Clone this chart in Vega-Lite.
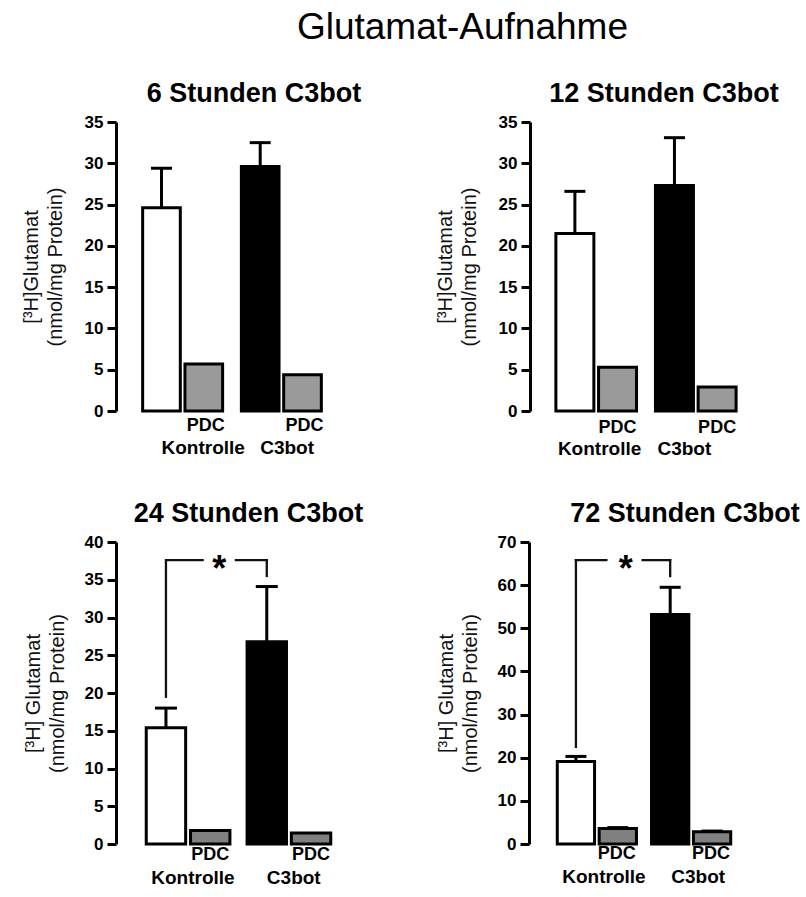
{
  "$schema": "https://vega.github.io/schema/vega-lite/v6.json",
  "padding": {"left": 21, "top": 9, "right": 0, "bottom": 0},
  "background": "white",
  "title": {"text": "Glutamat-Aufnahme", "font": "Liberation Sans", "fontSize": 37, "fontWeight": "normal", "color": "black", "anchor": "middle", "dx": 52, "offset": 33},
  "config": {
    "view": {"stroke": null},
    "font": "Liberation Sans",
    "axis": {"domainColor": "black", "domainWidth": 3, "tickColor": "black", "tickWidth": 3, "tickSize": 9, "labelFont": "Liberation Sans", "labelFontWeight": "bold", "labelFontSize": 17, "labelColor": "black", "labelPadding": 4, "titleFont": "Liberation Sans", "titleFontWeight": "normal", "titleFontSize": 20, "titleColor": "#111", "titlePadding": 17, "titleLineHeight": 24, "grid": false},
    "title": {"font": "Liberation Sans", "fontSize": 27, "fontWeight": "bold", "color": "black", "anchor": "middle", "offset": 5},
    "text": {"font": "Liberation Sans", "fontWeight": "bold", "fontSize": 18, "color": "black"}
  },
  "resolve": {"scale": {"x": "independent", "y": "independent", "xOffset": "independent", "fill": "independent"}},
  "spacing": 41,
  "vconcat": [
    {
      "spacing": 73,
      "resolve": {"scale": {"x": "independent", "y": "independent", "xOffset": "independent", "fill": "independent"}},
      "hconcat": [
        {
          "width": 232, "height": 289,
          "title": {"text": "6 Stunden C3bot", "dx": 22},
          "data": {"values": [
            {"gruppe": "Kontrolle", "bedingung": "ohne", "typ": "Kontrolle", "wert": 24.6, "oben": 29.4, "label": ""},
            {"gruppe": "Kontrolle", "bedingung": "PDC", "typ": "PDC", "wert": 5.7, "oben": null, "label": "PDC"},
            {"gruppe": "C3bot", "bedingung": "ohne", "typ": "C3bot", "wert": 29.6, "oben": 32.5, "label": ""},
            {"gruppe": "C3bot", "bedingung": "PDC", "typ": "PDC", "wert": 4.4, "oben": null, "label": "PDC"}
          ]},
          "encoding": {
            "x": {"field": "gruppe", "type": "nominal", "sort": ["Kontrolle", "C3bot"], "scale": {"paddingInner": 0.19, "paddingOuter": 0.27}, "axis": null},
            "xOffset": {"field": "bedingung", "type": "nominal", "sort": ["ohne", "PDC"], "scale": {"paddingInner": 0.11, "paddingOuter": 0}},
            "y": {"field": "wert", "type": "quantitative", "scale": {"domain": [0, 35], "nice": false}, "axis": {"values": [0, 5, 10, 15, 20, 25, 30, 35], "titlePadding": 19, "title": ["[³H]Glutamat", "(nmol/mg Protein)"]}}
          },
          "layer": [
            {"mark": {"type": "bar", "stroke": "black", "strokeWidth": 3},
             "encoding": {"fill": {"field": "typ", "type": "nominal", "scale": {"domain": ["Kontrolle", "PDC", "C3bot"], "range": ["white", "#9a9a9a", "black"]}, "legend": null}}},
            {"transform": [{"filter": "isValid(datum.oben)"}], "mark": {"type": "rule", "strokeWidth": 3, "color": "black"},
             "encoding": {"y2": {"field": "oben"}}},
            {"transform": [{"filter": "isValid(datum.oben)"}], "mark": {"type": "tick", "thickness": 3, "size": 21, "color": "black", "opacity": 1},
             "encoding": {"y": {"field": "oben", "type": "quantitative", "title": ["[³H]Glutamat", "(nmol/mg Protein)"]}}},
            {"transform": [{"filter": "datum.label == 'PDC'"}], "mark": {"type": "text", "baseline": "top", "dy": 6, "dx": 2},
             "encoding": {"y": {"datum": 0}, "text": {"field": "label"}}},
            {"transform": [{"filter": "datum.bedingung == 'ohne'"}], "mark": {"type": "text", "baseline": "top", "align": "left", "dy": 28, "dx": 0, "fontSize": 19},
             "encoding": {"y": {"datum": 0}, "text": {"field": "gruppe"}}}
          ]
        },
        {
          "width": 232, "height": 289,
          "title": {"text": "12 Stunden C3bot", "dx": 18},
          "data": {"values": [
            {"gruppe": "Kontrolle", "bedingung": "ohne", "typ": "Kontrolle", "wert": 21.5, "oben": 26.6, "label": ""},
            {"gruppe": "Kontrolle", "bedingung": "PDC", "typ": "PDC", "wert": 5.3, "oben": null, "label": "PDC"},
            {"gruppe": "C3bot", "bedingung": "ohne", "typ": "C3bot", "wert": 27.3, "oben": 33.1, "label": ""},
            {"gruppe": "C3bot", "bedingung": "PDC", "typ": "PDC", "wert": 2.9, "oben": null, "label": "PDC"}
          ]},
          "encoding": {
            "x": {"field": "gruppe", "type": "nominal", "sort": ["Kontrolle", "C3bot"], "scale": {"paddingInner": 0.19, "paddingOuter": 0.26}, "axis": null},
            "xOffset": {"field": "bedingung", "type": "nominal", "sort": ["ohne", "PDC"], "scale": {"paddingInner": 0.11, "paddingOuter": 0}},
            "y": {"field": "wert", "type": "quantitative", "scale": {"domain": [0, 35], "nice": false}, "axis": {"values": [0, 5, 10, 15, 20, 25, 30, 35], "titlePadding": 19, "title": ["[³H]Glutamat", "(nmol/mg Protein)"]}}
          },
          "layer": [
            {"mark": {"type": "bar", "stroke": "black", "strokeWidth": 3},
             "encoding": {"fill": {"field": "typ", "type": "nominal", "scale": {"domain": ["Kontrolle", "PDC", "C3bot"], "range": ["white", "#9a9a9a", "black"]}, "legend": null}}},
            {"transform": [{"filter": "isValid(datum.oben)"}], "mark": {"type": "rule", "strokeWidth": 3, "color": "black"},
             "encoding": {"y2": {"field": "oben"}}},
            {"transform": [{"filter": "isValid(datum.oben)"}], "mark": {"type": "tick", "thickness": 3, "size": 21, "color": "black", "opacity": 1},
             "encoding": {"y": {"field": "oben", "type": "quantitative", "title": ["[³H]Glutamat", "(nmol/mg Protein)"]}}},
            {"transform": [{"filter": "datum.label == 'PDC'"}], "mark": {"type": "text", "baseline": "top", "dy": 8, "dx": 0},
             "encoding": {"y": {"datum": 0}, "text": {"field": "label"}}},
            {"transform": [{"filter": "datum.bedingung == 'ohne'"}], "mark": {"type": "text", "baseline": "top", "align": "left", "dy": 29, "dx": -17, "fontSize": 19},
             "encoding": {"y": {"datum": 0}, "text": {"field": "gruppe"}}}
          ]
        }
      ]
    },
    {
      "spacing": 72,
      "resolve": {"scale": {"x": "independent", "y": "independent", "xOffset": "independent", "fill": "independent"}},
      "hconcat": [
        {
          "width": 245, "height": 302,
          "title": {"text": "24 Stunden C3bot", "dx": 10},
          "data": {"values": [
            {"gruppe": "Kontrolle", "bedingung": "ohne", "typ": "Kontrolle", "wert": 15.4, "oben": 18.0, "label": ""},
            {"gruppe": "Kontrolle", "bedingung": "PDC", "typ": "PDC", "wert": 1.8, "oben": null, "label": "PDC"},
            {"gruppe": "C3bot", "bedingung": "ohne", "typ": "C3bot", "wert": 26.8, "oben": 34.1, "label": ""},
            {"gruppe": "C3bot", "bedingung": "PDC", "typ": "PDC", "wert": 1.45, "oben": null, "label": "PDC"}
          ]},
          "encoding": {
            "x": {"field": "gruppe", "type": "nominal", "sort": ["Kontrolle", "C3bot"], "scale": {"paddingInner": 0.17, "paddingOuter": 0.3}, "axis": null},
            "y": {"field": "wert", "type": "quantitative", "scale": {"domain": [0, 40], "nice": false}, "axis": {"values": [0, 5, 10, 15, 20, 25, 30, 35, 40], "title": ["[³H] Glutamat", "(nmol/mg Protein)"]}}
          },
          "layer": [
            {"mark": {"type": "bar", "stroke": "black", "strokeWidth": 3},
             "encoding": {"xOffset": {"field": "bedingung", "type": "nominal", "sort": ["ohne", "PDC"], "scale": {"paddingInner": 0.11, "paddingOuter": 0}},
                          "fill": {"field": "typ", "type": "nominal", "scale": {"domain": ["Kontrolle", "PDC", "C3bot"], "range": ["white", "#808080", "black"]}, "legend": null}}},
            {"transform": [{"filter": "isValid(datum.oben)"}], "mark": {"type": "rule", "strokeWidth": 3, "color": "black"},
             "encoding": {"xOffset": {"field": "bedingung", "type": "nominal", "sort": ["ohne", "PDC"]}, "y2": {"field": "oben"}}},
            {"transform": [{"filter": "isValid(datum.oben)"}], "mark": {"type": "tick", "thickness": 3, "size": 22, "color": "black", "opacity": 1},
             "encoding": {"xOffset": {"field": "bedingung", "type": "nominal", "sort": ["ohne", "PDC"]}, "y": {"field": "oben", "type": "quantitative", "title": ["[³H] Glutamat", "(nmol/mg Protein)"]}}},
            {"data": {"values": [{"gruppe": "Kontrolle", "bedingung": "ohne", "von": 19.5, "bis": 37.6}, {"gruppe": "C3bot", "bedingung": "ohne", "von": 35.5, "bis": 37.6}]},
             "mark": {"type": "rule", "strokeWidth": 2.3, "strokeCap": "square", "color": "#111"},
             "encoding": {"xOffset": {"field": "bedingung", "type": "nominal", "sort": ["ohne", "PDC"]}, "y": {"field": "von", "type": "quantitative", "title": ["[³H] Glutamat", "(nmol/mg Protein)"]}, "y2": {"field": "bis"}}},
            {"data": {"values": [{"gruppe": "Kontrolle", "hoehe": 37.6}]},
             "mark": {"type": "rule", "strokeWidth": 2.3, "strokeCap": "square", "color": "#111", "xOffset": -22, "x2Offset": 14.5},
             "encoding": {"x2": {"field": "gruppe"}, "y": {"field": "hoehe", "type": "quantitative", "title": ["[³H] Glutamat", "(nmol/mg Protein)"]}}},
            {"data": {"values": [{"gruppe": "C3bot", "hoehe": 37.6}]},
             "mark": {"type": "rule", "strokeWidth": 2.3, "strokeCap": "square", "color": "#111", "xOffset": -53, "x2Offset": -22},
             "encoding": {"x2": {"field": "gruppe"}, "y": {"field": "hoehe", "type": "quantitative", "title": ["[³H] Glutamat", "(nmol/mg Protein)"]}}},
            {"data": {"values": [{"gruppe": "Kontrolle", "bedingung": "PDC", "hoehe": 37.6, "zeichen": "*"}]},
             "mark": {"type": "text", "fontSize": 36, "baseline": "middle", "dx": 9, "dy": 10},
             "encoding": {"xOffset": {"field": "bedingung", "type": "nominal", "sort": ["ohne", "PDC"]}, "y": {"field": "hoehe", "type": "quantitative", "title": ["[³H] Glutamat", "(nmol/mg Protein)"]}, "text": {"field": "zeichen"}}},
            {"transform": [{"filter": "datum.label == 'PDC'"}], "mark": {"type": "text", "baseline": "top", "dy": 2, "dx": 0},
             "encoding": {"xOffset": {"field": "bedingung", "type": "nominal", "sort": ["ohne", "PDC"]}, "y": {"datum": 0}, "text": {"field": "label"}}},
            {"transform": [{"filter": "datum.bedingung == 'ohne'"}], "mark": {"type": "text", "baseline": "top", "align": "center", "dy": 25, "dx": 27, "fontSize": 19},
             "encoding": {"xOffset": {"field": "bedingung", "type": "nominal", "sort": ["ohne", "PDC"]}, "y": {"datum": 0}, "text": {"field": "gruppe"}}}
          ]
        },
        {
          "width": 230, "height": 302,
          "title": {"text": "72 Stunden C3bot", "dx": 41},
          "data": {"values": [
            {"gruppe": "Kontrolle", "bedingung": "ohne", "typ": "Kontrolle", "wert": 19.1, "oben": 20.3, "label": ""},
            {"gruppe": "Kontrolle", "bedingung": "PDC", "typ": "PDC", "wert": 3.6, "oben": 3.8, "label": "PDC"},
            {"gruppe": "C3bot", "bedingung": "ohne", "typ": "C3bot", "wert": 53.2, "oben": 59.5, "label": ""},
            {"gruppe": "C3bot", "bedingung": "PDC", "typ": "PDC", "wert": 2.85, "oben": 3.0, "label": "PDC"}
          ]},
          "encoding": {
            "x": {"field": "gruppe", "type": "nominal", "sort": ["Kontrolle", "C3bot"], "scale": {"paddingInner": 0.16, "paddingOuter": 0.3}, "axis": null},
            "y": {"field": "wert", "type": "quantitative", "scale": {"domain": [0, 70], "nice": false}, "axis": {"values": [0, 10, 20, 30, 40, 50, 60, 70], "title": ["[³H] Glutamat", "(nmol/mg Protein)"]}}
          },
          "layer": [
            {"mark": {"type": "bar", "stroke": "black", "strokeWidth": 3},
             "encoding": {"xOffset": {"field": "bedingung", "type": "nominal", "sort": ["ohne", "PDC"], "scale": {"paddingInner": 0.11, "paddingOuter": 0}},
                          "fill": {"field": "typ", "type": "nominal", "scale": {"domain": ["Kontrolle", "PDC", "C3bot"], "range": ["white", "#808080", "black"]}, "legend": null}}},
            {"transform": [{"filter": "isValid(datum.oben)"}], "mark": {"type": "rule", "strokeWidth": 3, "color": "black"},
             "encoding": {"xOffset": {"field": "bedingung", "type": "nominal", "sort": ["ohne", "PDC"]}, "y2": {"field": "oben"}}},
            {"transform": [{"filter": "isValid(datum.oben)"}], "mark": {"type": "tick", "thickness": 3, "size": 21, "color": "black", "opacity": 1},
             "encoding": {"xOffset": {"field": "bedingung", "type": "nominal", "sort": ["ohne", "PDC"]}, "y": {"field": "oben", "type": "quantitative", "title": ["[³H] Glutamat", "(nmol/mg Protein)"]}}},
            {"data": {"values": [{"gruppe": "Kontrolle", "bedingung": "ohne", "von": 22.5, "bis": 65.8}, {"gruppe": "C3bot", "bedingung": "ohne", "von": 62.1, "bis": 65.8}]},
             "mark": {"type": "rule", "strokeWidth": 2.3, "strokeCap": "square", "color": "#111"},
             "encoding": {"xOffset": {"field": "bedingung", "type": "nominal", "sort": ["ohne", "PDC"]}, "y": {"field": "von", "type": "quantitative", "title": ["[³H] Glutamat", "(nmol/mg Protein)"]}, "y2": {"field": "bis"}}},
            {"data": {"values": [{"gruppe": "Kontrolle", "hoehe": 65.8}]},
             "mark": {"type": "rule", "strokeWidth": 2.3, "strokeCap": "square", "color": "#111", "xOffset": -21, "x2Offset": 9.5},
             "encoding": {"x2": {"field": "gruppe"}, "y": {"field": "hoehe", "type": "quantitative", "title": ["[³H] Glutamat", "(nmol/mg Protein)"]}}},
            {"data": {"values": [{"gruppe": "C3bot", "hoehe": 65.8}]},
             "mark": {"type": "rule", "strokeWidth": 2.3, "strokeCap": "square", "color": "#111", "xOffset": -48.5, "x2Offset": -21},
             "encoding": {"x2": {"field": "gruppe"}, "y": {"field": "hoehe", "type": "quantitative", "title": ["[³H] Glutamat", "(nmol/mg Protein)"]}}},
            {"data": {"values": [{"gruppe": "Kontrolle", "bedingung": "PDC", "hoehe": 65.8, "zeichen": "*"}]},
             "mark": {"type": "text", "fontSize": 36, "baseline": "middle", "dx": 8, "dy": 10},
             "encoding": {"xOffset": {"field": "bedingung", "type": "nominal", "sort": ["ohne", "PDC"]}, "y": {"field": "hoehe", "type": "quantitative", "title": ["[³H] Glutamat", "(nmol/mg Protein)"]}, "text": {"field": "zeichen"}}},
            {"transform": [{"filter": "datum.label == 'PDC'"}], "mark": {"type": "text", "baseline": "top", "dy": 1, "dx": -1},
             "encoding": {"xOffset": {"field": "bedingung", "type": "nominal", "sort": ["ohne", "PDC"]}, "y": {"datum": 0}, "text": {"field": "label"}}},
            {"transform": [{"filter": "datum.bedingung == 'ohne'"}], "mark": {"type": "text", "baseline": "top", "align": "center", "dy": 24, "dx": 28, "fontSize": 19},
             "encoding": {"xOffset": {"field": "bedingung", "type": "nominal", "sort": ["ohne", "PDC"]}, "y": {"datum": 0}, "text": {"field": "gruppe"}}}
          ]
        }
      ]
    }
  ]
}
